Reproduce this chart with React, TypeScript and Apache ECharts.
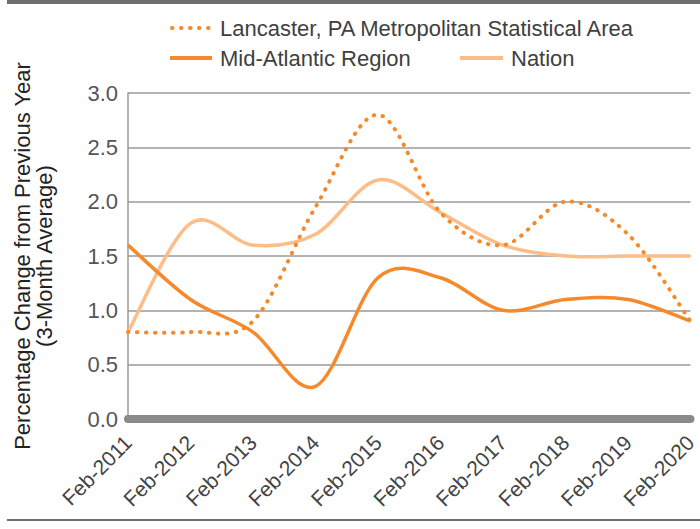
import React, { useEffect, useRef } from "react";
import * as echarts from "echarts";

const categories = [
  "Feb-2011", "Feb-2012", "Feb-2013", "Feb-2014", "Feb-2015",
  "Feb-2016", "Feb-2017", "Feb-2018", "Feb-2019", "Feb-2020",
];
const lancaster = [0.8, 0.8, 0.9, 1.95, 2.8, 1.9, 1.6, 2.0, 1.7, 0.9];
const midAtlantic = [1.6, 1.1, 0.8, 0.3, 1.3, 1.3, 1.0, 1.1, 1.1, 0.9];
const nation = [0.8, 1.8, 1.6, 1.7, 2.2, 1.9, 1.6, 1.5, 1.5, 1.5];

const ORANGE = "#F58A2C";
const LIGHT = "#FDBD88";
const FONT = "Liberation Sans";

// Smooth curve (Catmull-Rom as Bezier) through points placed by the axes' scales
function smoothSeries(name: string, values: number[], style: any, z: number) {
  return {
    name,
    type: "custom",
    z,
    data: values.map((v, i) => [i, v]),
    encode: { x: 0, y: 1 },
    renderItem: (params: any, api: any) => {
      if (params.dataIndex !== 0) return null;
      const pts = values.map((v, i) => api.coord([i, v]));
      const n = pts.length;
      const P = (k: number) => pts[Math.max(0, Math.min(n - 1, k))];
      let d = `M${pts[0][0]},${pts[0][1]}`;
      for (let i = 0; i < n - 1; i++) {
        const p0 = P(i - 1), p1 = P(i), p2 = P(i + 1), p3 = P(i + 2);
        const c1x = p1[0] + (p2[0] - p0[0]) / 6;
        const c1y = p1[1] + (p2[1] - p0[1]) / 6;
        const c2x = p2[0] - (p3[0] - p1[0]) / 6;
        const c2y = p2[1] - (p3[1] - p1[1]) / 6;
        d += ` C${c1x},${c1y} ${c2x},${c2y} ${p2[0]},${p2[1]}`;
      }
      return {
        type: "path",
        shape: { pathData: d },
        style: { fill: "none", ...style },
      };
    },
  };
}

export default function App() {
  const ref = useRef<HTMLDivElement>(null);
  useEffect(() => {
    if (!ref.current) return;
    const chart = echarts.init(ref.current, undefined, { renderer: "svg" });
    const legendText = { fontSize: 22, fill: "#404040", fontFamily: FONT, verticalAlign: "middle" };
    chart.setOption({
      animation: false,
      backgroundColor: "#ffffff",
      textStyle: { fontFamily: FONT },
      grid: { left: 128, right: 0, top: 93, bottom: 110, containLabel: false },
      xAxis: {
        type: "category",
        data: categories,
        boundaryGap: false,
        axisLine: { show: true, lineStyle: { color: "#8a8a8a", width: 8 } },
        axisTick: { show: false },
        axisLabel: {
          rotate: 45,
          margin: 20,
          fontSize: 21,
          color: "#444",
          fontFamily: FONT,
          interval: 0,
        },
        splitLine: { show: false },
      },
      yAxis: {
        type: "value",
        min: 0,
        max: 3,
        interval: 0.5,
        name: "Percentage Change from Previous Year\n(3-Month Average)",
        nameLocation: "middle",
        nameRotate: 90,
        nameGap: 73,
        nameTextStyle: { fontSize: 22, color: "#222", fontFamily: FONT, lineHeight: 22, align: "center" },
        axisLine: { show: true, lineStyle: { color: "#9a9a9a", width: 1.5 } },
        axisTick: { show: false },
        axisLabel: {
          margin: 10,
          fontSize: 22,
          color: "#555",
          fontFamily: FONT,
          formatter: (v: number) => v.toFixed(1),
        },
        splitLine: { show: true, lineStyle: { color: "#9a9a9a", width: 1.5 } },
      },
      graphic: [
        { type: "rect", left: 7, top: 0, shape: { width: 693, height: 4 }, style: { fill: "#6d6e70" } },
        { type: "rect", left: 7, top: 519, shape: { width: 693, height: 2 }, style: { fill: "#6d6e70" } },
        {
          type: "line",
          shape: { x1: 172, y1: 28, x2: 211, y2: 28 },
          style: { stroke: ORANGE, lineWidth: 4, lineDash: [0.5, 8.5], lineCap: "round" },
        },
        { type: "text", x: 220, y: 28, style: { text: "Lancaster, PA Metropolitan Statistical Area", ...legendText } },
        {
          type: "line",
          shape: { x1: 170, y1: 58, x2: 212, y2: 58 },
          style: { stroke: ORANGE, lineWidth: 4 },
        },
        { type: "text", x: 220, y: 58, style: { text: "Mid-Atlantic Region", ...legendText } },
        {
          type: "line",
          shape: { x1: 460, y1: 58, x2: 503, y2: 58 },
          style: { stroke: LIGHT, lineWidth: 4 },
        },
        { type: "text", x: 511, y: 58, style: { text: "Nation", ...legendText } },
      ],
      series: [
        smoothSeries("Nation", nation, { stroke: LIGHT, lineWidth: 3.5 }, 2),
        smoothSeries("Mid-Atlantic Region", midAtlantic, { stroke: ORANGE, lineWidth: 3.5 }, 3),
        smoothSeries(
          "Lancaster, PA Metropolitan Statistical Area",
          lancaster,
          { stroke: ORANGE, lineWidth: 4, lineDash: [0.5, 8.5], lineCap: "round" },
          4
        ),
      ],
    });
    return () => chart.dispose();
  }, []);
  return (
    <div
      ref={ref}
      style={{ position: "fixed", left: 0, top: 0, width: 700, height: 529 }}
    />
  );
}
